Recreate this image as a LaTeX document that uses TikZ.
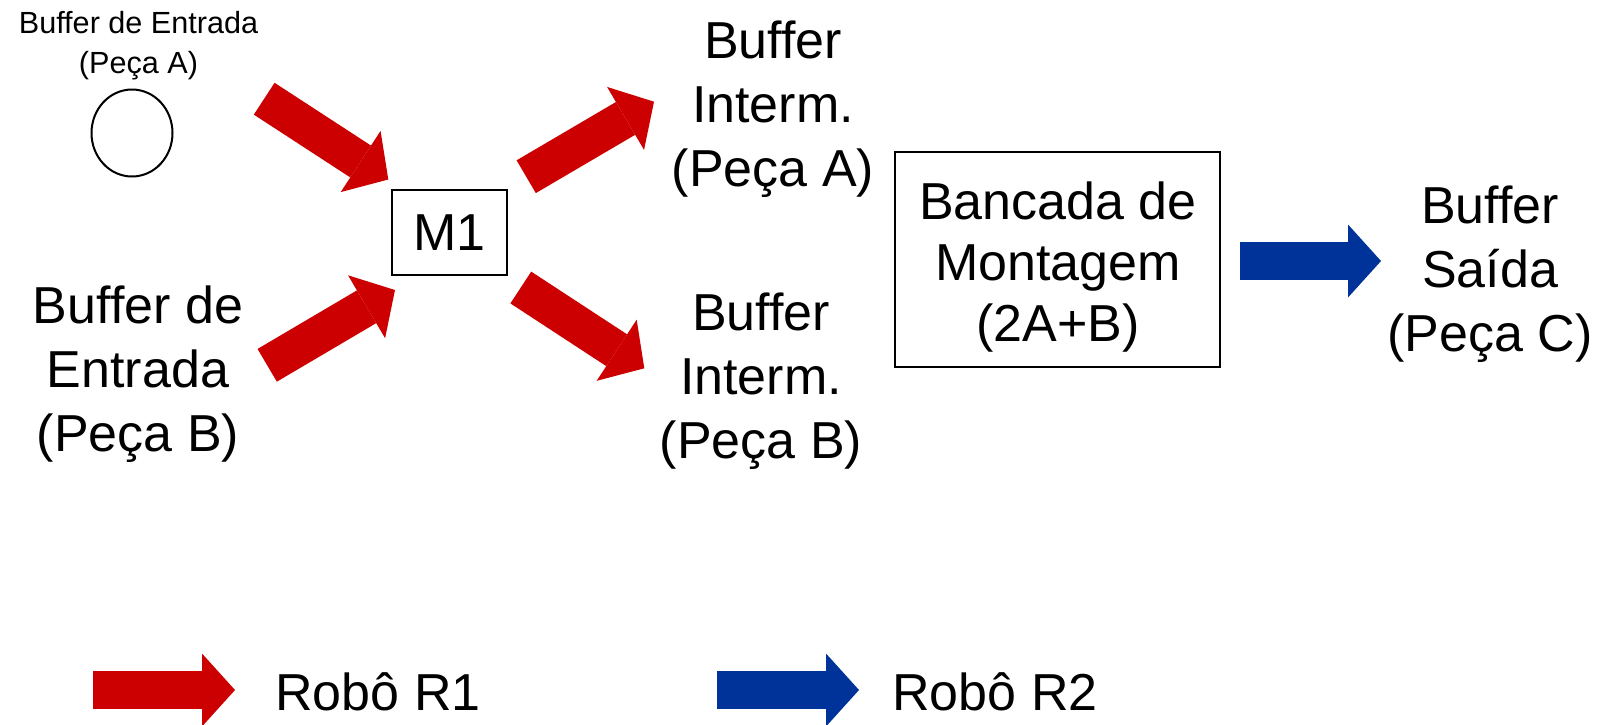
\documentclass[tikz,border=0pt]{standalone}
\usepackage{fontspec}
\setmainfont{Liberation Sans}
\usetikzlibrary{arrows.meta,shapes.geometric}
\definecolor{robred}{HTML}{CC0000}
\definecolor{robblue}{HTML}{003399}
\begin{document}
\begin{tikzpicture}[x=0.5pt,y=-0.5pt]
     \tikzstyle{textnode}=[align=center, inner sep=0pt, font=\fontsize{26}{32}\selectfont]
     \tikzstyle{smallnode}=[align=center, inner sep=0pt, font=\fontsize{15.3}{20}\selectfont]
     \tikzstyle{boxnode}=[draw, line width=1pt, align=center, inner sep=0pt, font=\fontsize{26}{30.5}\selectfont]
     \tikzstyle{robotone}=[draw=robred, line width=19pt, -{Triangle[length=16.5pt, width=36.5pt, line width=0pt]}, robred]
     \tikzstyle{robottwo}=[draw=robblue, line width=19pt, -{Triangle[length=16.5pt, width=36.5pt, line width=0pt]}, robblue]
     \useasboundingbox (0,0) rectangle (1609,724);
     \node[smallnode, anchor=base] (bufAtxt) at (138.5,73) {Buffer de Entrada\\(Peça A)};
     \node[draw, ellipse, line width=1pt, minimum width=40.5pt, minimum height=43.5pt] (bufA) at (132,133) {};
     \node[textnode, anchor=base] (bufB) at (138,451) {Buffer de\\Entrada\\(Peça B)};
     \node[boxnode, minimum width=57.5pt, minimum height=42.5pt] (m1) at (449.5,232.5) {M1};
     \node[textnode, anchor=base] (intA) at (773,186.7) {Buffer\\Interm.\\(Peça A)};
     \node[textnode, anchor=base] (intB) at (761,458) {Buffer\\Interm.\\(Peça B)};
     \node[boxnode, minimum width=162.5pt, minimum height=107.5pt] (bancada) at (1057.5,259.2) {};
     \node[boxnode, draw=none, anchor=base] (bancadatxt) at (1058,341) {Bancada de\\Montagem\\(2A+B)};
     \node[textnode, anchor=base] (saida) at (1490,351.7) {Buffer\\Saída\\(Peça C)};
     \coordinate (a1s) at (264.2,98.7);  \coordinate (a1e) at (388.3,179.5);
     \coordinate (a2s) at (267.2,365.3); \coordinate (a2e) at (395,290);
     \coordinate (a3s) at (526.2,176.7); \coordinate (a3e) at (654,101.7);
     \coordinate (a4s) at (520.8,287.5); \coordinate (a4e) at (644.3,368.3);
     \coordinate (a5s) at (1240,261);    \coordinate (a5e) at (1381,261);
     \draw[robotone] (a1s) -- (a1e);
     \draw[robotone] (a2s) -- (a2e);
     \draw[robotone] (a3s) -- (a3e);
     \draw[robotone] (a4s) -- (a4e);
     \draw[robottwo] (a5s) -- (a5e);
     \coordinate (l1s) at (93,690);  \coordinate (l1e) at (235,690);
     \coordinate (l2s) at (717,690); \coordinate (l2e) at (859,690);
     \draw[robotone] (l1s) -- (l1e);
     \draw[robottwo] (l2s) -- (l2e);
     \node[textnode, anchor=base west] (r1) at (275,710) {Robô R1};
     \node[textnode, anchor=base west] (r2) at (892,710) {Robô R2};
\end{tikzpicture}
\end{document}
